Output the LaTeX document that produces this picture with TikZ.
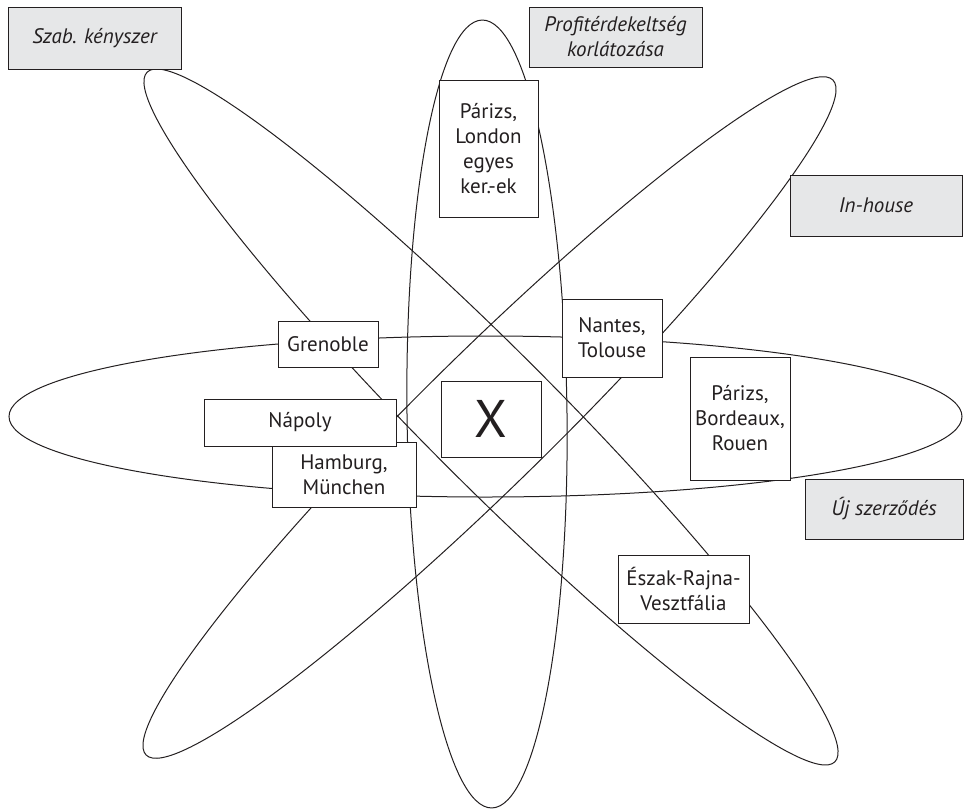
\documentclass[tikz,border=0pt]{standalone}
\usepackage{fontspec}
\setmainfont{PT Sans}
\definecolor{ink}{HTML}{231F20}
\definecolor{boxgray}{HTML}{E6E7E8}
\begin{document}
\begin{tikzpicture}[x=1pt,y=-1pt,
  orbit/.style={draw=ink, line width=1pt},
  city/.style={draw=ink, line width=1pt, fill=white, text=ink, inner sep=0pt, outer sep=0pt, align=center, font=\fontsize{21}{25}\selectfont},
  tag/.style={draw=ink, line width=1pt, fill=boxgray, text=ink, inner sep=0pt, outer sep=0pt, align=center, font=\fontsize{21}{25}\selectfont\itshape}]
\useasboundingbox (0,0) rectangle (969,809);
% orbits
\draw[orbit] (485.5,416.5) ellipse [x radius=476.5, y radius=80.5];
\draw[orbit, rotate around={0.7:(487,414)}] (487,414) ellipse [x radius=80, y radius=394];
\draw[orbit, rotate around={-45.08:(491,417)}] (491,417) ellipse [x radius=487, y radius=66];
\draw[orbit, rotate around={44.5:(489.5,417.5)}] (489.5,417.5) ellipse [x radius=481.5, y radius=66];
% labels
\node[tag, minimum width=173, minimum height=62] (szab) at (94.5,38) {Szab. kényszer};
\node[tag, minimum width=173, minimum height=60] (profit) at (615.5,37) {Profitérdekeltség\\korlátozása};
\node[tag, minimum width=172, minimum height=61] (inhouse) at (876,205.5) {In-house};
\node[tag, minimum width=158, minimum height=60] (uj) at (884,509) {Új szerződés};
% cities
\node[city, minimum width=99, minimum height=137] (parlon) at (488.5,148.5) {Párizs,\\London\\egyes\\ker.-ek};
\node[city, minimum width=100, minimum height=46] (grenoble) at (328,344) {Grenoble};
\node[city, minimum width=144, minimum height=65] (hamburg) at (344,474.5) {Hamburg,\\München};
\node[city, minimum width=192, minimum height=47] (napoly) at (300,422.5) {Nápoly};
\node[city, minimum width=100, minimum height=76, font=\fontsize{53}{60}\selectfont] (xbox) at (491,419) {X};
\node[city, minimum width=100, minimum height=78] (nantes) at (612,338) {Nantes,\\Tolouse};
\node[city, minimum width=100, minimum height=123] (pbr) at (740,418.5) {Párizs,\\Bordeaux,\\Rouen};
\node[city, minimum width=131, minimum height=68] (eszak) at (683.5,589) {Észak-Rajna-\\Vesztfália};
\end{tikzpicture}
\end{document}
